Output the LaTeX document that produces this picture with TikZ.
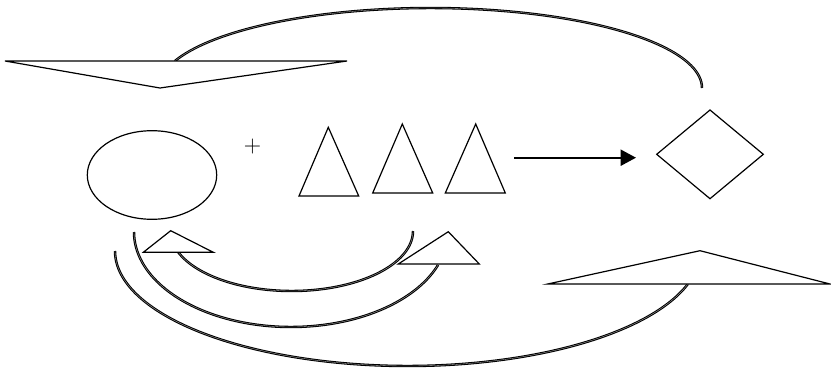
\documentclass[tikz,border=0pt]{standalone}
\usetikzlibrary{arrows.meta}
\begin{document}
\begin{tikzpicture}[x=0.75pt,y=-0.75pt,
  shp/.style={draw=black,line width=0.9pt,fill=white,line join=miter},
  dbl/.style={draw=black,line width=0.8pt,double=gray!60,double distance=0.25pt},
  arr/.style={draw=black,line width=1.5pt,-{Triangle[length=11.5pt,width=12pt]}}]
\useasboundingbox (0,0) rectangle (831,368);
% curved double connectors
\draw[dbl,domain=199.7:360,samples=80,smooth,variable=\t] plot ({430.5+271.5*cos(\t)},{88+80*sin(\t)});
\draw[dbl,domain=0:159.5,samples=70,smooth,variable=\t] plot ({291.7+121.3*cos(\t)},{231+60*sin(\t)});
\draw[dbl,domain=20.3:180,samples=70,smooth,variable=\t] plot ({290.9+156.9*cos(\t)},{232+95*sin(\t)});
\draw[dbl,domain=16.7:180,samples=90,smooth,variable=\t] plot ({407.6+292.6*cos(\t)},{251+115*sin(\t)});
% arrowhead shapes
\coordinate (h1a) at (5,61); \coordinate (h1b) at (347,61); \coordinate (h1c) at (160,88);
\draw[shp] (h1a) -- (h1b) -- (h1c) -- cycle;
\coordinate (h2a) at (143.3,252.3); \coordinate (h2b) at (213.3,252.3); \coordinate (h2c) at (170.7,230.7);
\draw[shp] (h2a) -- (h2b) -- (h2c) -- cycle;
\coordinate (h3a) at (398.3,264); \coordinate (h3b) at (479.3,264); \coordinate (h3c) at (448.3,231.7);
\draw[shp] (h3a) -- (h3b) -- (h3c) -- cycle;
\coordinate (h4a) at (547.7,284); \coordinate (h4b) at (830,284); \coordinate (h4c) at (700,250.7);
\draw[shp] (h4a) -- (h4b) -- (h4c) -- cycle;
% ellipse
\draw[shp] (152,175) ellipse [x radius=64.7,y radius=44.3];
\node (plus) at (252.5,147) {\fontsize{18}{20}\selectfont +};
% triangles
\draw[shp] (328.3,127.3) -- (358.7,196) -- (299,196) -- cycle;
\draw[shp] (402.3,124) -- (432.7,193) -- (372.7,193) -- cycle;
\draw[shp] (475.7,124) -- (505.3,193) -- (445.3,193) -- cycle;
% arrow and diamond
\coordinate (as) at (514.3,157.7); \coordinate (ae) at (636,157.7);
\draw[arr] (as) -- (ae);
\draw[shp] (710,110) -- (763.3,154.3) -- (710,198.7) -- (656.7,154.3) -- cycle;
\end{tikzpicture}
\end{document}
